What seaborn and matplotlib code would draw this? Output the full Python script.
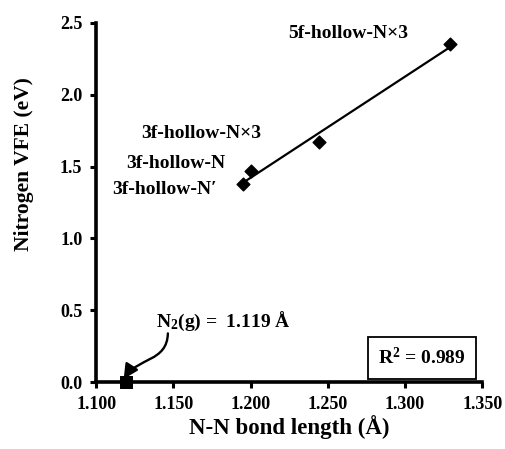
import matplotlib
matplotlib.use('Agg')
import matplotlib.pyplot as plt
from matplotlib.patches import FancyArrowPatch
from matplotlib.path import Path
import numpy as np
import pandas as pd
import seaborn as sns

# bond lengths (A) and nitrogen VFE (eV)
sites = ['3f-hollow-N\u2032', '3f-hollow-N', '3f-hollow-N\u00d73', '5f-hollow-N\u00d73']
bond_len = [1.195, 1.200, 1.244, 1.329]
vfe = [1.38, 1.47, 1.67, 2.35]
n2_len = [1.119]
n2_vfe = [0.0]
r2_text = 'R$^2$ = 0.989'

# label anchor points (data coords, left aligned)
label_x = [1.1106, 1.1195, 1.1292, 1.224]
label_y = [1.343, 1.524, 1.732, 2.427]

sns.set_style('ticks')
plt.rcParams['font.family'] = ['Liberation Serif', 'DejaVu Serif']
plt.rcParams['font.weight'] = 'bold'
plt.rcParams['mathtext.fontset'] = 'custom'
plt.rcParams['mathtext.rm'] = 'Liberation Serif:bold'
plt.rcParams['mathtext.bf'] = 'Liberation Serif:bold'
plt.rcParams['mathtext.it'] = 'Liberation Serif:bold'
for key in ['text.color', 'axes.labelcolor', 'xtick.color', 'ytick.color', 'axes.edgecolor']:
    plt.rcParams[key] = 'black'

df = pd.DataFrame({'site': sites, 'len': bond_len, 'vfe': vfe})

fig = plt.figure(figsize=(5.05, 4.49), dpi=100)
ax = fig.add_axes([0.1905, 0.1486, 0.7645, 0.8008])

sns.regplot(data=df, x='len', y='vfe', ax=ax, ci=None, marker='D', color='black',
            scatter_kws={'s': 42, 'alpha': 1, 'zorder': 3}, line_kws={'lw': 1.6})
sns.scatterplot(x=n2_len, y=n2_vfe, ax=ax, marker='s', color='black', s=80,
                edgecolor='black', zorder=5, clip_on=False)

for name, lx, ly in zip(sites, label_x, label_y):
    ax.text(lx, ly, name, fontsize=14, fontweight='bold', ha='left', va='center')

ax.text(1.1389, 0.421, 'N$_2$(g) =  1.119 \u00c5', fontsize=14, fontweight='bold',
        ha='left', va='center')
# curved pointer from the label down to the N2 point
arrow_path = Path([(1.1464, 0.34), (1.1460, 0.141), (1.1266, 0.170), (1.1178, 0.023)],
                  [Path.MOVETO, Path.CURVE4, Path.CURVE4, Path.CURVE4])
ax.add_patch(FancyArrowPatch(path=arrow_path, arrowstyle='-|>', color='black', lw=1.7,
                             mutation_scale=22, zorder=6))

ax.text(0.844, 0.0676, r2_text, transform=ax.transAxes, fontsize=14,
        fontweight='bold', ha='center', va='center',
        bbox=dict(boxstyle='square,pad=0.55', fc='white', ec='black', lw=1.3))

ax.set_xlim(1.100, 1.350)
ax.set_ylim(0, 2.5)
ax.set_xticks(np.arange(1.10, 1.351, 0.05))
ax.set_xticklabels([f'{v:.3f}' for v in np.arange(1.10, 1.351, 0.05)])
ax.set_yticks(np.arange(0, 2.51, 0.5))
ax.set_yticklabels([f'{v:.1f}' for v in np.arange(0, 2.51, 0.5)])
ax.tick_params(axis='both', labelsize=13, width=2.2, length=4, color='black',
               labelcolor='black', direction='out', pad=6)
for lab in ax.get_xticklabels() + ax.get_yticklabels():
    lab.set_fontweight('bold')

for side in ['top', 'right']:
    ax.spines[side].set_visible(False)
for side in ['left', 'bottom']:
    ax.spines[side].set_linewidth(2.6)
    ax.spines[side].set_color('black')

ax.set_xlabel('N-N bond length (\u00c5)', fontsize=16.5, fontweight='bold')
ax.xaxis.set_label_coords(0.5, -0.09)
ax.set_ylabel('Nitrogen VFE (eV)', fontsize=15.5, fontweight='bold')
ax.yaxis.set_label_coords(-0.16, 0.607)

fig.savefig('out.png', dpi=100)
